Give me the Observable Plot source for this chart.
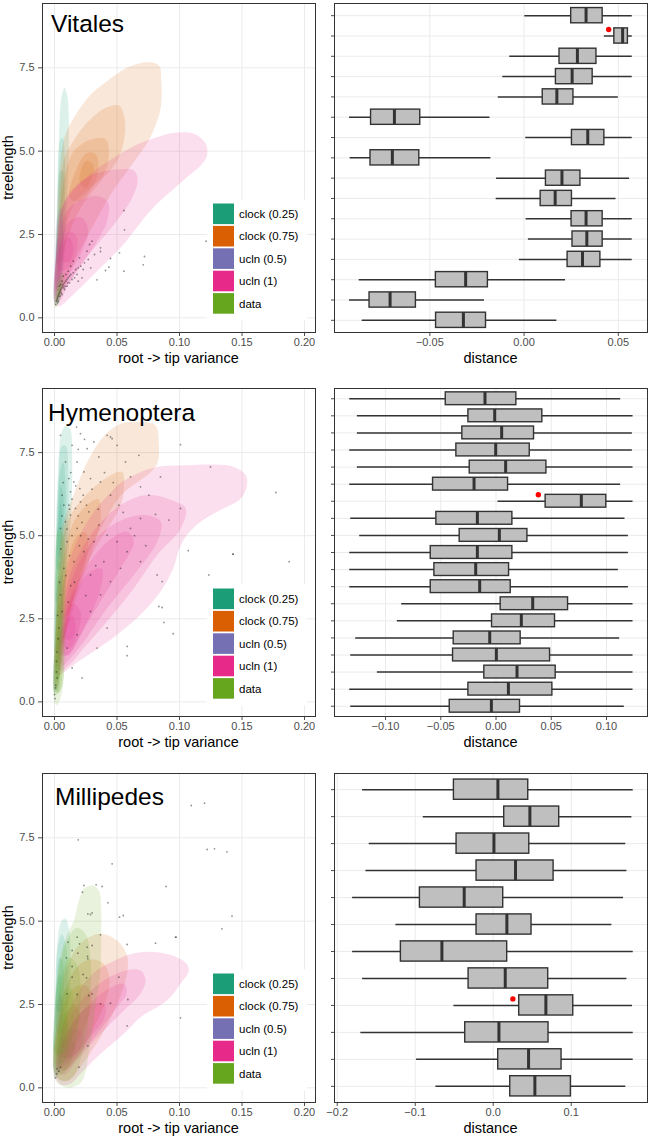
<!DOCTYPE html>
<html><head><meta charset="utf-8">
<script src="https://cdn.jsdelivr.net/npm/d3@7"></script>
<script src="https://cdn.jsdelivr.net/npm/@observablehq/plot@0.6"></script>
<style>
body{margin:0;background:#fff}
#root{position:relative;width:650px;height:1139px;font-family:"Liberation Sans",Arial,sans-serif;overflow:hidden}
.pl{position:absolute}
</style></head>
<body><div id="root"></div>
<script>
// ---------- shared ----------
const seriesNames = ["clock (0.25)", "clock (0.75)", "ucln (0.5)", "ucln (1)", "data"];
const seriesColors = ["#1B9E77", "#D95F02", "#7570B3", "#E7298A", "#66A61E"];
const panelTitles = ["Vitales", "Hymenoptera", "Millipedes"];
const varianceTicks = [0, 0.05, 0.10, 0.15, 0.20];
const treelengthTicks = [0, 2.5, 5, 7.5];
const vitalesDistTicks = [-0.05, 0, 0.05];
const hymenDistTicks = [-0.10, -0.05, 0, 0.05, 0.10];
const milliDistTicks = [-0.2, -0.1, 0, 0.1];

// ---------- Vitales density contours (root->tip variance, treelength) ----------
const vitalesClock025 = [
  [[0.0005,0.4],[0.0015,2.0],[0.002,3.6],[0.0035,5.3],[0.0055,6.6],[0.008,6.9],[0.0105,6.6],[0.0115,5.3],[0.010,3.4],[0.0075,1.6],[0.004,0.5]],
  [[0.001,1.0],[0.002,2.8],[0.003,4.2],[0.0045,5.3],[0.0065,5.4],[0.0085,4.6],[0.008,3.0],[0.006,1.4],[0.003,0.8]],
  [[0.0015,1.6],[0.003,3.3],[0.0045,4.4],[0.0065,4.4],[0.007,3.4],[0.005,1.8]]
];
const vitalesClock075 = [
  [[0.0005,0.5],[0.0015,2.0],[0.003,3.8],[0.008,5.4],[0.0155,6.0],[0.029,6.7],[0.042,7.1],[0.058,7.5],[0.074,7.67],[0.0835,7.57],[0.0855,7.1],[0.085,6.3],[0.081,5.8],[0.075,5.3],[0.062,4.6],[0.045,3.7],[0.03,2.7],[0.016,1.7],[0.006,0.8]],
  [[0.001,0.8],[0.003,2.8],[0.008,4.8],[0.015,5.3],[0.0235,5.75],[0.0395,6.27],[0.0515,6.37],[0.056,6.0],[0.0555,5.3],[0.05,4.7],[0.037,4.1],[0.021,3.3],[0.009,2.2],[0.003,1.0]],
  [[0.002,1.2],[0.004,3.0],[0.009,4.4],[0.0155,5.0],[0.029,5.35],[0.041,5.35],[0.0435,4.9],[0.0395,4.3],[0.029,3.9],[0.0155,3.4],[0.006,2.2]],
  [[0.012,3.6],[0.018,4.5],[0.026,4.95],[0.033,4.9],[0.035,4.4],[0.03,3.9],[0.02,3.5]],
  [[0.02,4.1],[0.025,4.7],[0.031,4.6],[0.03,4.2],[0.025,3.9]]
];
const vitalesUcln05 = [
  [[0.0,0.5],[0.0005,1.8],[0.002,3.0],[0.005,3.3],[0.007,2.6],[0.006,1.4],[0.003,0.5]],
  [[0.0005,0.7],[0.001,1.8],[0.003,2.4],[0.005,2.0],[0.004,1.0],[0.002,0.6]]
];
const vitalesUcln1 = [
  [[0.0005,0.4],[0.001,1.8],[0.005,3.2],[0.0155,3.85],[0.0315,4.4],[0.0475,4.8],[0.066,5.2],[0.082,5.42],[0.0955,5.55],[0.1115,5.52],[0.121,5.22],[0.122,4.87],[0.117,4.57],[0.106,4.22],[0.0955,3.87],[0.0848,3.52],[0.0741,3.1],[0.0635,2.6],[0.0528,2.1],[0.0395,1.6],[0.026,1.1],[0.0128,0.62],[0.004,0.35]],
  [[0.001,0.6],[0.002,2.2],[0.008,3.5],[0.02,4.05],[0.035,4.35],[0.05,4.45],[0.0635,4.42],[0.0665,4.12],[0.061,3.52],[0.05,2.92],[0.037,2.32],[0.0235,1.72],[0.011,1.0],[0.004,0.5]],
  [[0.002,0.8],[0.003,2.3],[0.01,3.2],[0.022,3.55],[0.035,3.65],[0.043,3.45],[0.042,2.9],[0.034,2.3],[0.022,1.6],[0.01,1.0]],
  [[0.003,1.1],[0.005,2.3],[0.012,2.9],[0.022,3.0],[0.027,2.6],[0.022,2.0],[0.013,1.4],[0.006,1.0]],
  [[0.004,1.4],[0.006,2.3],[0.012,2.6],[0.018,2.4],[0.017,1.9],[0.011,1.5]],
  [[0.006,1.7],[0.008,2.3],[0.012,2.4],[0.015,2.1],[0.012,1.7]]
];
const vitalesData = [
  [[0.0,0.35],[0.001,0.8],[0.003,1.2],[0.006,1.35],[0.008,1.2],[0.006,0.8],[0.003,0.4],[0.001,0.3]],
  [[0.001,0.45],[0.002,0.85],[0.004,1.1],[0.006,1.1],[0.005,0.8],[0.003,0.5]],
  [[0.002,0.6],[0.003,0.9],[0.005,0.95],[0.004,0.7]]
];
const vitalesPoints = [[0.001,0.4],[0.0015,0.5],[0.002,0.55],[0.0025,0.6],[0.003,0.65],[0.0035,0.7],[0.004,0.75],[0.0045,0.8],[0.005,0.85],[0.006,0.9],[0.0065,0.95],[0.007,1.0],[0.008,1.05],[0.009,1.1],[0.01,1.15],[0.011,1.2],[0.012,1.25],[0.013,1.3],[0.015,1.35],[0.017,1.45],[0.019,1.5],[0.021,1.55],[0.024,1.65],[0.027,1.75],[0.005,1.0],[0.006,1.1],[0.008,0.85],[0.01,0.95],[0.012,1.05],[0.014,1.15],[0.009,1.3],[0.011,1.4],[0.013,1.55],[0.016,1.2],[0.018,1.3],[0.02,1.8],[0.023,1.45],[0.026,2.0],[0.029,1.5],[0.032,1.9],[0.004,0.95],[0.007,1.25],[0.015,1.7],[0.019,1.1],[0.003,0.5],[0.006,0.7],[0.022,1.2],[0.0025,0.45],[0.0045,0.65],[0.0055,0.75],[0.0075,0.9],[0.0085,0.95],[0.0105,1.05],[0.0555,3.22],[0.056,2.64],[0.1213,2.3],[0.072,1.84],[0.071,1.59],[0.052,1.95],[0.0555,1.4],[0.0448,1.78],[0.0408,1.42],[0.0368,1.99],[0.0368,2.1],[0.034,1.14],[0.0435,1.52],[0.028,2.2],[0.03,2.3]];

// ---------- Hymenoptera density contours ----------
const hymenClock025 = [
  [[0.0,0.3],[0.0005,2.5],[0.001,5.0],[0.003,7.0],[0.005,8.0],[0.0085,8.3],[0.0125,8.2],[0.0141,7.3],[0.0135,5.8],[0.0105,4.2],[0.006,2.2],[0.002,0.5]],
  [[0.0005,1.5],[0.001,4.0],[0.003,6.5],[0.006,7.7],[0.009,7.7],[0.011,6.8],[0.0105,5.0],[0.007,3.0],[0.003,1.6]],
  [[0.001,3.0],[0.002,5.0],[0.004,6.8],[0.007,7.2],[0.009,6.4],[0.0085,4.8],[0.005,3.3]],
  [[0.002,4.0],[0.003,5.5],[0.005,6.5],[0.007,6.2],[0.007,5.0],[0.005,4.0]],
  [[0.0025,4.4],[0.0035,5.6],[0.005,6.0],[0.006,5.4],[0.0055,4.6],[0.004,4.3]]
];
const hymenClock075 = [
  [[0.0005,0.5],[0.002,3.0],[0.006,5.2],[0.0155,6.25],[0.026,7.2],[0.0395,8.0],[0.0528,8.37],[0.0688,8.42],[0.0808,8.32],[0.0835,7.72],[0.0827,7.22],[0.078,6.95],[0.066,6.6],[0.0528,6.2],[0.0395,5.4],[0.026,4.4],[0.0155,3.2],[0.0075,1.7],[0.002,0.4]],
  [[0.001,1.0],[0.004,3.8],[0.01,5.4],[0.0235,6.15],[0.042,6.75],[0.054,6.92],[0.0555,6.45],[0.053,5.92],[0.042,5.2],[0.031,4.5],[0.018,3.4],[0.008,2.0]],
  [[0.002,1.5],[0.006,4.0],[0.014,5.3],[0.025,5.9],[0.035,6.1],[0.037,5.5],[0.03,4.5],[0.02,3.4],[0.01,2.2]],
  [[0.005,2.5],[0.01,4.2],[0.018,5.0],[0.025,5.1],[0.026,4.4],[0.018,3.4],[0.01,2.6]]
];
const hymenUcln05 = [
  [[0.0,0.3],[0.0005,2.0],[0.002,3.5],[0.005,3.8],[0.007,2.8],[0.005,1.2],[0.002,0.3]]
];
const hymenUcln1 = [
  [[0.002,0.8],[0.004,2.5],[0.01,4.0],[0.02,5.0],[0.033,5.8],[0.045,6.3],[0.0515,6.55],[0.069,6.92],[0.082,7.07],[0.106,7.12],[0.1275,7.14],[0.1435,7.07],[0.153,6.82],[0.154,6.52],[0.149,6.12],[0.13,5.72],[0.117,5.42],[0.106,5.02],[0.1,4.62],[0.095,4.02],[0.0848,3.32],[0.0688,2.62],[0.05,2.02],[0.0315,1.52],[0.0155,1.12],[0.008,0.9]],
  [[0.003,1.0],[0.006,2.5],[0.012,3.8],[0.025,4.8],[0.045,5.7],[0.065,6.15],[0.0795,6.22],[0.095,6.05],[0.105,5.82],[0.101,5.22],[0.0821,4.42],[0.0635,3.42],[0.042,2.42],[0.0235,1.62],[0.0128,1.15],[0.006,0.95]],
  [[0.004,1.2],[0.007,2.6],[0.013,3.6],[0.03,4.8],[0.05,5.4],[0.0715,5.62],[0.085,5.42],[0.0821,4.82],[0.0635,3.82],[0.042,2.82],[0.0235,1.82],[0.0128,1.32],[0.007,1.1]],
  [[0.005,1.4],[0.008,2.6],[0.015,3.4],[0.03,4.3],[0.045,4.9],[0.058,5.12],[0.0635,4.82],[0.0528,4.02],[0.0368,3.02],[0.0208,2.02],[0.0115,1.42]],
  [[0.006,1.6],[0.009,2.6],[0.016,3.3],[0.028,3.9],[0.038,4.0],[0.036,3.3],[0.026,2.4],[0.015,1.6],[0.009,1.4]],
  [[0.007,1.7],[0.009,2.5],[0.015,2.95],[0.021,2.7],[0.018,2.0],[0.012,1.6]],
  [[0.008,1.9],[0.01,2.4],[0.014,2.6],[0.017,2.3],[0.014,1.9]]
];
const hymenData = [
  [[0.0,0.0],[0.0,2.0],[0.0005,4.0],[0.003,5.2],[0.007,5.0],[0.009,3.5],[0.0085,1.5],[0.006,0.3],[0.002,-0.1]],
  [[0.0005,0.2],[0.001,2.5],[0.003,4.3],[0.006,4.0],[0.0075,2.2],[0.0055,0.4]],
  [[0.0005,0.3],[0.001,2.2],[0.003,3.8],[0.0055,3.3],[0.0065,1.8],[0.004,0.3]],
  [[0.001,0.4],[0.0015,2.0],[0.003,3.2],[0.005,2.6],[0.0055,1.2],[0.0025,0.3]],
  [[0.0015,0.6],[0.002,2.0],[0.0035,2.6],[0.0045,1.8],[0.0035,0.7]],
  [[0.0015,0.8],[0.002,1.8],[0.0035,2.2],[0.004,1.4],[0.003,0.7]]
];
const hymenPoints = [[0.0176,8.27],[0.0208,8.07],[0.0261,7.62],[0.0315,7.82],[0.0355,7.37],[0.0421,8.02],[0.0448,7.97],[0.0461,7.92],[0.0501,7.72],[0.0568,7.22],[0.0675,7.42],[0.0608,6.77],[0.0688,6.47],[0.0755,6.22],[0.0848,6.77],[0.1008,7.74],[0.1008,5.82],[0.0915,5.47],[0.0808,5.64],[0.0688,5.52],[0.0608,5.22],[0.0515,5.92],[0.0448,6.22],[0.0368,6.62],[0.0288,6.72],[0.0235,6.92],[0.0181,7.22],[0.0155,6.62],[0.0128,6.32],[0.0208,6.02],[0.0275,5.72],[0.0355,5.32],[0.0421,5.02],[0.0501,4.82],[0.0581,4.52],[0.0688,4.22],[0.0821,3.82],[0.0861,3.62],[0.0835,2.87],[0.0875,2.39],[0.095,2.05],[0.107,4.55],[0.1235,3.82],[0.1427,4.44],[0.1248,7.07],[0.0581,1.67],[0.0421,2.22],[0.0341,1.62],[0.0221,0.72],[0.0141,1.02],[0.0101,1.62],[0.0181,2.02],[0.0288,2.72],[0.0368,3.22],[0.0448,3.62],[0.0528,4.02],[0.0288,3.82],[0.0235,4.52],[0.0315,4.82],[0.0395,4.22],[0.0181,5.22],[0.0128,5.62],[0.0155,4.22],[0.0101,4.82],[0.0088,5.42],[0.0075,5.92],[0.0061,6.22],[0.0115,6.72],[0.0088,7.22],[0.0141,7.72],[0.0048,8.02],[0.0075,4.02],[0.0048,3.22],[0.0035,2.22],[0.0016,1.22],[0.0008,0.42],[0.0,0.22],[0.0021,0.72],[0.0061,2.72],[0.0048,5.22],[0.0115,5.92],[0.0168,5.82],[0.0203,6.42],[0.023,6.22],[0.0256,5.92],[0.1771,6.3],[0.1877,4.22],[0.1429,4.45],[0.0581,1.39],[0.0861,2.84],[0.012,4.4],[0.014,5.0],[0.016,3.6],[0.02,4.7],[0.022,5.4],[0.025,3.2],[0.027,4.9],[0.033,4.1],[0.011,3.0],[0.009,3.8],[0.013,6.9],[0.019,7.6],[0.024,7.9],[0.03,6.4],[0.035,5.8],[0.04,6.9],[0.047,6.6],[0.055,5.7],[0.064,5.0],[0.073,4.7],[0.0005,0.1],[0.001,0.5],[0.0015,0.9],[0.002,1.5],[0.003,1.9],[0.0025,2.6],[0.004,3.6],[0.005,4.6],[0.006,5.6],[0.007,6.6],[0.01,5.2],[0.012,5.8],[0.014,6.1],[0.017,6.5],[0.019,5.6],[0.021,5.0],[0.013,3.5]];

// ---------- Millipedes density contours ----------
const milliClock025 = [
  [[0.0,0.5],[0.0005,2.5],[0.002,4.2],[0.005,4.95],[0.0085,5.08],[0.0115,4.8],[0.0128,3.8],[0.0115,2.3],[0.0075,1.0],[0.003,0.4]],
  [[0.0005,1.0],[0.001,3.0],[0.003,4.3],[0.006,4.6],[0.009,4.3],[0.0105,3.3],[0.009,1.9],[0.005,1.0]],
  [[0.001,1.8],[0.002,3.2],[0.004,3.9],[0.0065,3.8],[0.0075,3.0],[0.006,2.0],[0.003,1.6]],
  [[0.0015,2.3],[0.003,3.3],[0.005,3.4],[0.0055,2.8],[0.004,2.3]]
];
const milliClock075 = [
  [[0.0005,0.4],[0.002,2.0],[0.008,3.4],[0.016,4.1],[0.0235,4.42],[0.0368,4.62],[0.0501,4.42],[0.0576,4.02],[0.0587,3.62],[0.0568,3.22],[0.05,2.5],[0.038,1.6],[0.024,0.8],[0.01,0.2]],
  [[0.001,0.7],[0.004,2.2],[0.011,3.2],[0.02,3.7],[0.03,3.85],[0.04,3.7],[0.044,3.2],[0.04,2.5],[0.03,1.7],[0.018,0.9],[0.007,0.5]],
  [[0.002,1.0],[0.006,2.3],[0.013,2.9],[0.022,3.1],[0.029,2.9],[0.028,2.2],[0.02,1.5],[0.01,0.9]],
  [[0.004,1.3],[0.009,2.2],[0.016,2.5],[0.02,2.2],[0.016,1.6],[0.009,1.2]]
];
const milliUcln05 = [
  [[0.0,0.3],[0.0005,1.5],[0.002,2.6],[0.005,2.8],[0.007,2.0],[0.005,0.8],[0.002,0.3]]
];
const milliUcln1 = [
  [[0.001,0.3],[0.004,1.5],[0.015,2.6],[0.03,3.4],[0.05,3.85],[0.066,4.05],[0.082,4.07],[0.096,3.95],[0.105,3.75],[0.1075,3.52],[0.1008,3.12],[0.09,2.62],[0.0688,2.12],[0.0555,1.62],[0.0368,1.02],[0.0208,0.42],[0.0128,0.12],[0.005,0.1]],
  [[0.002,0.5],[0.004,1.3],[0.015,2.3],[0.035,3.1],[0.055,3.5],[0.0688,3.52],[0.0728,3.22],[0.0688,2.82],[0.0555,2.32],[0.0368,1.62],[0.018,0.82],[0.008,0.4]],
  [[0.003,0.6],[0.005,1.3],[0.02,2.2],[0.04,2.9],[0.0555,3.12],[0.0576,2.82],[0.05,2.42],[0.034,1.62],[0.018,0.92],[0.009,0.55]],
  [[0.004,0.7],[0.006,1.3],[0.015,2.0],[0.03,2.5],[0.04,2.5],[0.04,2.1],[0.028,1.5],[0.015,0.9],[0.008,0.65]],
  [[0.005,0.8],[0.008,1.4],[0.015,1.75],[0.022,1.7],[0.022,1.3],[0.014,0.9],[0.008,0.75]],
  [[0.007,0.9],[0.01,1.3],[0.015,1.4],[0.017,1.15],[0.012,0.9]]
];
const milliData = [
  [[0.0,0.3],[0.0,2.0],[0.003,3.6],[0.009,4.5],[0.0155,5.02],[0.0195,5.62],[0.0235,5.97],[0.0301,6.07],[0.0355,5.92],[0.0373,5.42],[0.0373,4.52],[0.0368,3.52],[0.033,2.5],[0.028,1.2],[0.022,0.2],[0.012,0.0],[0.004,0.1]],
  [[0.0005,0.4],[0.001,2.5],[0.005,3.8],[0.011,4.5],[0.018,4.8],[0.025,4.6],[0.029,3.8],[0.028,2.5],[0.022,1.0],[0.014,0.3],[0.006,0.2]],
  [[0.001,0.6],[0.002,2.3],[0.006,3.4],[0.012,3.9],[0.018,3.7],[0.021,2.9],[0.018,1.6],[0.012,0.7],[0.005,0.4]],
  [[0.002,0.8],[0.004,2.0],[0.008,2.9],[0.013,3.0],[0.015,2.3],[0.012,1.2],[0.006,0.7]],
  [[0.003,1.0],[0.005,1.9],[0.009,2.3],[0.011,1.8],[0.008,1.1]]
];
const milliPoints = [[0.019,7.44],[0.0461,6.72],[0.0235,6.07],[0.0224,5.87],[0.0333,6.09],[0.0381,6.04],[0.0427,5.55],[0.0267,5.22],[0.0301,5.25],[0.0288,5.2],[0.052,5.12],[0.055,5.17],[0.0368,4.59],[0.0181,4.52],[0.02,4.32],[0.0107,4.37],[0.0581,4.3],[0.0808,4.34],[0.0968,4.52],[0.0893,6.04],[0.0261,4.22],[0.0301,4.27],[0.0141,4.12],[0.0187,4.04],[0.0096,3.9],[0.0264,3.94],[0.0267,3.87],[0.0141,3.64],[0.0229,3.4],[0.0256,3.3],[0.0141,3.32],[0.0101,2.82],[0.0181,2.8],[0.0275,2.77],[0.0301,2.82],[0.0515,3.32],[0.0587,2.65],[0.0581,1.86],[0.0368,2.52],[0.0448,2.54],[0.1008,2.1],[0.0267,1.26],[0.0195,0.62],[0.0021,0.57],[0.0016,0.42],[0.0008,0.3],[0.0035,0.5],[0.0048,0.62],[0.1094,8.47],[0.120,8.54],[0.1221,7.15],[0.128,7.17],[0.138,7.08],[0.1339,4.77],[0.142,5.15],[0.0973,4.52]];

// ---------- boxplots of distance ----------
const vitalesLo  = [0.0004,0.0426,-0.0076,-0.0113,-0.0137,-0.0926,0.0009,-0.0923,-0.0146,-0.0148,0.0011,0.0023,-0.0025,-0.0875,-0.0926,-0.0859];
const vitalesQ1  = [0.025,0.0479,0.0188,0.0169,0.0099,-0.0812,0.0254,-0.0815,0.0116,0.0088,0.0252,0.0257,0.0231,-0.0468,-0.082,-0.0467];
const vitalesMed = [0.0329,0.0523,0.0283,0.0255,0.0174,-0.0688,0.0338,-0.0699,0.0201,0.0165,0.0329,0.0333,0.031,-0.031,-0.0711,-0.0322];
const vitalesQ3  = [0.0417,0.0551,0.0384,0.0364,0.0262,-0.0551,0.0426,-0.0556,0.0299,0.0254,0.0417,0.0417,0.0405,-0.0192,-0.0574,-0.0202];
const vitalesHi  = [0.0574,0.0574,0.0574,0.0574,0.05,-0.0181,0.0574,-0.0176,0.056,0.0488,0.0574,0.0574,0.0574,0.022,-0.021,0.0174];
const vitalesObserved = [{row: 2, value: 0.0449}];

const hymenLo  = [-0.1324,-0.1255,-0.1255,-0.1324,-0.1255,-0.1324,0.0018,-0.1315,-0.1234,-0.1324,-0.1324,-0.1324,-0.0854,-0.0893,-0.127,-0.1315,-0.1074,-0.1324,-0.1315];
const hymenQ1  = [-0.0455,-0.025,-0.0305,-0.0359,-0.0238,-0.057,0.0449,-0.054,-0.0329,-0.0591,-0.0558,-0.0591,0.0042,-0.0036,-0.0383,-0.0389,-0.0106,-0.025,-0.0419];
const hymenMed = [-0.01,-0.0012,0.0051,-0.0003,0.0087,-0.0199,0.0772,-0.0169,0.003,-0.0169,-0.0184,-0.0148,0.0332,0.0229,-0.0057,0.0003,0.019,0.0112,-0.0042];
const hymenQ3  = [0.0184,0.0419,0.0344,0.0305,0.0456,0.0109,0.0998,0.0148,0.0284,0.0148,0.0118,0.0133,0.0652,0.0534,0.0223,0.0489,0.054,0.051,0.0217];
const hymenHi  = [0.1128,0.124,0.1234,0.1234,0.124,0.1128,0.124,0.1167,0.1198,0.1198,0.1107,0.1198,0.124,0.124,0.1119,0.124,0.124,0.124,0.1161];
const hymenObserved = [{row: 7, value: 0.0383}];

const milliLo  = [-0.1675,-0.0897,-0.159,-0.1632,-0.1803,-0.1248,-0.1803,-0.1675,-0.0504,-0.1697,-0.0983,-0.0735];
const milliQ1  = [-0.0504,0.0141,-0.047,-0.0214,-0.094,-0.0214,-0.1184,-0.0316,0.0333,-0.0359,0.0064,0.0218];
const milliMed = [0.006,0.047,0.0009,0.0286,-0.0372,0.0175,-0.0658,0.0154,0.0675,0.0073,0.0453,0.0534];
const milliQ3  = [0.0449,0.0846,0.0462,0.0774,0.0128,0.0491,0.0179,0.0705,0.1026,0.0709,0.0876,0.0996];
const milliHi  = [0.1795,0.1778,0.17,0.1714,0.1671,0.1521,0.1795,0.1714,0.1786,0.1795,0.1795,0.17];
const milliObserved = [{row: 9, value: 0.0252}];

// ---------- layout ----------
const FONT = '"Liberation Sans", Arial, Helvetica, sans-serif';
const rowTops = [0, 385, 770];
const rowHeights = [372, 371, 372];
const MT = 3, MB = 40;
const leftX = {domain: [-0.0096, 0.2088]};
const leftY = {domain: [-0.44, 9.43]};
const rightDomains = [[-0.1006, 0.0655], [-0.1462, 0.1371], [-0.2035, 0.1978]];
const GRID = "#ebebeb", INK = "#333333";

function polyRows(levels) {
  const rows = [];
  levels.forEach((pts, i) => pts.forEach(([v, t]) => rows.push({v, t, id: i})));
  return rows;
}

function leftPlot(densities, points, h) {
  const marks = [
    Plot.ruleX(varianceTicks, {x: d => d, stroke: GRID, strokeWidth: 1}),
    Plot.ruleY(treelengthTicks, {y: d => d, stroke: GRID, strokeWidth: 1})
  ];
  densities.forEach((levels, k) => {
    marks.push(Plot.line(polyRows(levels), {x: "v", y: "t", z: "id", fill: seriesColors[k], fillOpacity: 0.15, stroke: "none", curve: "catmull-rom-closed"}));
  });
  marks.push(Plot.dot(points, {x: d => d[0], y: d => d[1], r: 0.9, fill: "#111", fillOpacity: 0.45, stroke: "none"}));
  marks.push(Plot.frame({stroke: INK, strokeWidth: 1}));
  return Plot.plot({
    width: 325, height: h, marginLeft: 42, marginRight: 10, marginTop: MT, marginBottom: MB,
    style: {fontFamily: FONT, fontSize: "11px", color: "#4d4d4d", background: "transparent", overflow: "visible"},
    x: {domain: leftX.domain, ticks: varianceTicks, tickFormat: d3.format(".2f"), tickSize: 4, tickPadding: 2, label: null},
    y: {domain: leftY.domain, ticks: treelengthTicks, tickFormat: d3.format(".1f"), tickSize: 4, tickPadding: 4, label: null},
    marks
  });
}

function rightPlot(lo, q1, med, q3, hi, observed, domain, ticks, fmt, h) {
  const cats = lo.map((_, i) => String(i + 1));
  const rows = cats.map((c, i) => ({c, lo: lo[i], q1: q1[i], med: med[i], q3: q3[i], hi: hi[i]}));
  const obs = observed.map(o => ({c: String(o.row), value: o.value}));
  return Plot.plot({
    width: 325, height: h, marginLeft: 9, marginRight: 3, marginTop: MT, marginBottom: MB,
    style: {fontFamily: FONT, fontSize: "11px", color: "#4d4d4d", background: "transparent", overflow: "visible"},
    x: {domain, ticks, tickFormat: d3.format(fmt), tickSize: 4, tickPadding: 2, label: null},
    y: {type: "band", domain: cats, paddingInner: 0.25, paddingOuter: 0.225, align: 0.5, round: false, tickSize: 3, tickFormat: () => "", label: null},
    marks: [
      Plot.ruleX(ticks, {x: d => d, stroke: GRID, strokeWidth: 1}),
      Plot.ruleY(cats, {y: d => d, stroke: GRID, strokeWidth: 1}),
      Plot.ruleY(rows, {y: "c", x1: "lo", x2: "hi", stroke: INK, strokeWidth: 1.5}),
      Plot.barX(rows, {y: "c", x1: "q1", x2: "q3", fill: "#bfbfbf", stroke: INK, strokeWidth: 1.4}),
      Plot.tickX(rows, {y: "c", x: "med", stroke: INK, strokeWidth: 3}),
      Plot.dot(obs, {y: "c", x: "value", r: 2.7, fill: "#ff0000", stroke: "none", dy: -6.5}),
      Plot.frame({stroke: INK, strokeWidth: 1})
    ]
  });
}

const root = document.getElementById("root");
function place(node, left, top) {
  node.classList.add("pl");
  node.style.left = left + "px";
  node.style.top = top + "px";
  root.appendChild(node);
}

const leftSets = [
  [[vitalesClock025, vitalesClock075, vitalesUcln05, vitalesUcln1, vitalesData], vitalesPoints],
  [[hymenClock025, hymenClock075, hymenUcln05, hymenUcln1, hymenData], hymenPoints],
  [[milliClock025, milliClock075, milliUcln05, milliUcln1, milliData], milliPoints]
];
const rightSets = [
  [vitalesLo, vitalesQ1, vitalesMed, vitalesQ3, vitalesHi, vitalesObserved, vitalesDistTicks, ".2f"],
  [hymenLo, hymenQ1, hymenMed, hymenQ3, hymenHi, hymenObserved, hymenDistTicks, ".2f"],
  [milliLo, milliQ1, milliMed, milliQ3, milliHi, milliObserved, milliDistTicks, ".1f"]
];

for (let r = 0; r < 3; r++) {
  const [dens, pts] = leftSets[r];
  place(leftPlot(dens, pts, rowHeights[r]), 0, rowTops[r]);
  const [lo, q1, med, q3, hi, obs, ticks, fmt] = rightSets[r];
  place(rightPlot(lo, q1, med, q3, hi, obs, rightDomains[r], ticks, fmt, rowHeights[r]), 325, rowTops[r]);
}

// ---------- overlay: titles, axis titles, legends ----------
const svg = d3.create("svg").attr("width", 650).attr("height", 1139)
  .style("position", "absolute").style("left", "0px").style("top", "0px")
  .style("font-family", FONT);
const titleX = [51, 48, 55];
const titleBase = [32, 421, 805];
for (let r = 0; r < 3; r++) {
  const pTop = rowTops[r] + MT;
  const pBot = rowTops[r] + rowHeights[r] - MB;
  svg.append("text").attr("x", titleX[r]).attr("y", titleBase[r]).attr("font-size", 24.5).attr("fill", "#000").text(panelTitles[r]);
  svg.append("text").attr("transform", `translate(13,${(pTop + pBot) / 2}) rotate(-90)`).attr("text-anchor", "middle").attr("font-size", 14.5).attr("fill", "#000").text("treelength");
  svg.append("text").attr("x", 178.5).attr("y", pBot + 31).attr("text-anchor", "middle").attr("font-size", 14.5).attr("fill", "#000").text("root -> tip variance");
  svg.append("text").attr("x", 490.5).attr("y", pBot + 31).attr("text-anchor", "middle").attr("font-size", 14.5).attr("fill", "#000").text("distance");
  const lg = svg.append("g").attr("transform", `translate(207,${pTop + 196.5})`);
  lg.append("rect").attr("width", 100).attr("height", 121).attr("fill", "#fff");
  seriesNames.forEach((name, i) => {
    lg.append("rect").attr("x", 6).attr("y", 4 + i * 22.4).attr("width", 21).attr("height", 20.6).attr("fill", seriesColors[i]);
    lg.append("text").attr("x", 32).attr("y", 4 + i * 22.4 + 14.5).attr("font-size", 11.5).attr("fill", "#000").text(name);
  });
}
root.appendChild(svg.node());
</script>
</body></html>
